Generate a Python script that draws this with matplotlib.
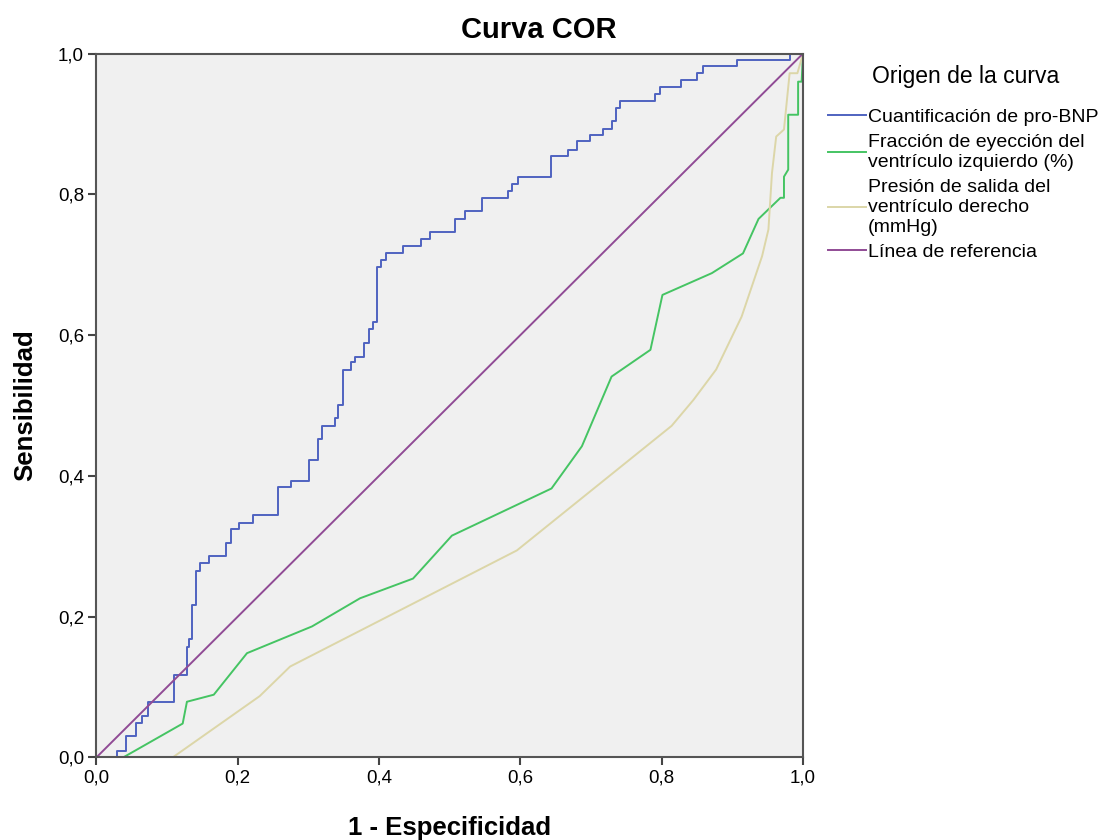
import matplotlib.pyplot as plt
from matplotlib.ticker import FuncFormatter

plt.rcParams['font.family'] = ['Liberation Sans', 'DejaVu Sans']

# Cuantificación de pro-BNP (curva escalonada)
bnp_x = [0.0, 0.029, 0.029, 0.042, 0.042, 0.056, 0.056, 0.065, 0.065, 0.073, 0.073,
         0.110, 0.110, 0.128, 0.128, 0.131, 0.131, 0.135, 0.135, 0.141, 0.141,
         0.147, 0.147, 0.159, 0.159, 0.183, 0.183, 0.190, 0.190, 0.202, 0.202,
         0.221, 0.221, 0.257, 0.257, 0.275, 0.275, 0.301, 0.301, 0.313, 0.313,
         0.319, 0.319, 0.338, 0.338, 0.342, 0.342, 0.349, 0.349, 0.360, 0.360,
         0.366, 0.366, 0.379, 0.379, 0.386, 0.386, 0.392, 0.392, 0.397, 0.397,
         0.402, 0.402, 0.410, 0.410, 0.434, 0.434, 0.459, 0.459, 0.472, 0.472,
         0.507, 0.507, 0.521, 0.521, 0.545, 0.545, 0.583, 0.583, 0.588, 0.588,
         0.596, 0.596, 0.643, 0.643, 0.668, 0.668, 0.680, 0.680, 0.699, 0.699,
         0.717, 0.717, 0.729, 0.729, 0.735, 0.735, 0.741, 0.741, 0.790, 0.790,
         0.797, 0.797, 0.827, 0.827, 0.850, 0.850, 0.858, 0.858, 0.907, 0.907,
         0.982, 0.982, 1.0]
bnp_y = [0.0, 0.0, 0.009, 0.009, 0.030, 0.030, 0.049, 0.049, 0.059, 0.059, 0.079,
         0.079, 0.117, 0.117, 0.157, 0.157, 0.168, 0.168, 0.216, 0.216, 0.265,
         0.265, 0.276, 0.276, 0.286, 0.286, 0.305, 0.305, 0.324, 0.324, 0.333,
         0.333, 0.344, 0.344, 0.384, 0.384, 0.393, 0.393, 0.423, 0.423, 0.452,
         0.452, 0.471, 0.471, 0.482, 0.482, 0.501, 0.501, 0.550, 0.550, 0.561,
         0.561, 0.569, 0.569, 0.589, 0.589, 0.608, 0.608, 0.618, 0.618, 0.697,
         0.697, 0.707, 0.707, 0.717, 0.717, 0.727, 0.727, 0.736, 0.736, 0.746,
         0.746, 0.765, 0.765, 0.776, 0.776, 0.795, 0.795, 0.805, 0.805, 0.815,
         0.815, 0.825, 0.825, 0.854, 0.854, 0.863, 0.863, 0.875, 0.875, 0.884,
         0.884, 0.893, 0.893, 0.904, 0.904, 0.922, 0.922, 0.933, 0.933, 0.943,
         0.943, 0.952, 0.952, 0.962, 0.962, 0.972, 0.972, 0.982, 0.982, 0.991,
         0.991, 1.0, 1.0]

# Fracción de eyección del ventrículo izquierdo (%)
fevi_x = [0.0, 0.038, 0.122, 0.128, 0.166, 0.213, 0.305, 0.373, 0.448, 0.503,
          0.644, 0.687, 0.715, 0.729, 0.784, 0.801, 0.871, 0.915, 0.937, 0.968,
          0.973, 0.973, 0.979, 0.979, 0.993, 0.993, 0.998, 1.0]
fevi_y = [0.0, 0.0, 0.048, 0.079, 0.089, 0.148, 0.186, 0.226, 0.254, 0.315,
          0.382, 0.442, 0.508, 0.541, 0.579, 0.657, 0.688, 0.716, 0.765, 0.795,
          0.795, 0.825, 0.835, 0.913, 0.913, 0.960, 0.960, 1.0]

# Presión de salida del ventrículo derecho (mmHg)
psvd_x = [0.0, 0.108, 0.231, 0.274, 0.595, 0.814, 0.845, 0.877, 0.913, 0.942,
          0.951, 0.956, 0.962, 0.973, 0.981, 0.992, 1.0]
psvd_y = [0.0, 0.0, 0.087, 0.129, 0.294, 0.471, 0.508, 0.551, 0.626, 0.712,
          0.750, 0.830, 0.882, 0.892, 0.972, 0.972, 1.0]

ref_x = [0.0, 1.0]
ref_y = [0.0, 1.0]

labels = ["Cuantificación de pro-BNP",
          "Fracción de eyección del\nventrículo izquierdo (%)",
          "Presión de salida del\nventrículo derecho\n(mmHg)",
          "Línea de referencia"]
colors = ["#4f63c0", "#45c463", "#dcd6a8", "#904b95"]
ticks = [0.0, 0.2, 0.4, 0.6, 0.8, 1.0]

fig = plt.figure(figsize=(11.04, 8.4), dpi=100)
ax = fig.add_axes([0.0874, 0.0984, 0.6400, 0.8379])
ax.set_facecolor("#f0f0f0")

ax.plot(bnp_x, bnp_y, color=colors[0], lw=1.4, label=labels[0])
ax.plot(fevi_x, fevi_y, color=colors[1], lw=1.4, label=labels[1])
ax.plot(psvd_x, psvd_y, color=colors[2], lw=1.4, label=labels[2])
ax.plot(ref_x, ref_y, color=colors[3], lw=1.4, label=labels[3])

ax.set_xlim(0, 1)
ax.set_ylim(0, 1)
ax.set_xticks(ticks)
ax.set_yticks(ticks)
fmt = FuncFormatter(lambda v, p: f"{v:.1f}".replace(".", ","))
ax.xaxis.set_major_formatter(fmt)
ax.yaxis.set_major_formatter(fmt)
ax.tick_params(direction="out", length=6, width=1.5, color="#444444",
               labelsize=13.5, pad=3)
for s in ax.spines.values():
    s.set_color("#555555")
    s.set_linewidth(1.5)

# título centrado en la figura, como en SPSS
fig.text(539 / 1104, 1 - 30 / 840, "Curva COR", fontsize=21, fontweight="bold",
         ha="center", va="center")

xl = ax.set_xlabel("1 - Especificidad", fontsize=18.5, fontweight="bold")
yl = ax.set_ylabel("Sensibilidad", fontsize=18.5, fontweight="bold")
ax.xaxis.set_label_coords(0.5, -0.1005)
ax.yaxis.set_label_coords(-0.101, 0.5)
xl.set_va("center")
yl.set_va("center")
yl.set_ha("center")

# leyenda
fig.text(966 / 1104, 1 - 77 / 840, "Origen de la curva", fontsize=16.5,
         ha="center", va="center")
leg = ax.legend(loc="upper left", bbox_to_anchor=(828 / 1104, 1 - 108 / 840),
                bbox_transform=fig.transFigure, frameon=False, fontsize=14,
                handlelength=1.95, handletextpad=0.1, labelspacing=0.42,
                borderpad=0, borderaxespad=0)
for t in leg.get_texts():
    t.set_linespacing(1.22)

fig.savefig("out.png", dpi=100)
